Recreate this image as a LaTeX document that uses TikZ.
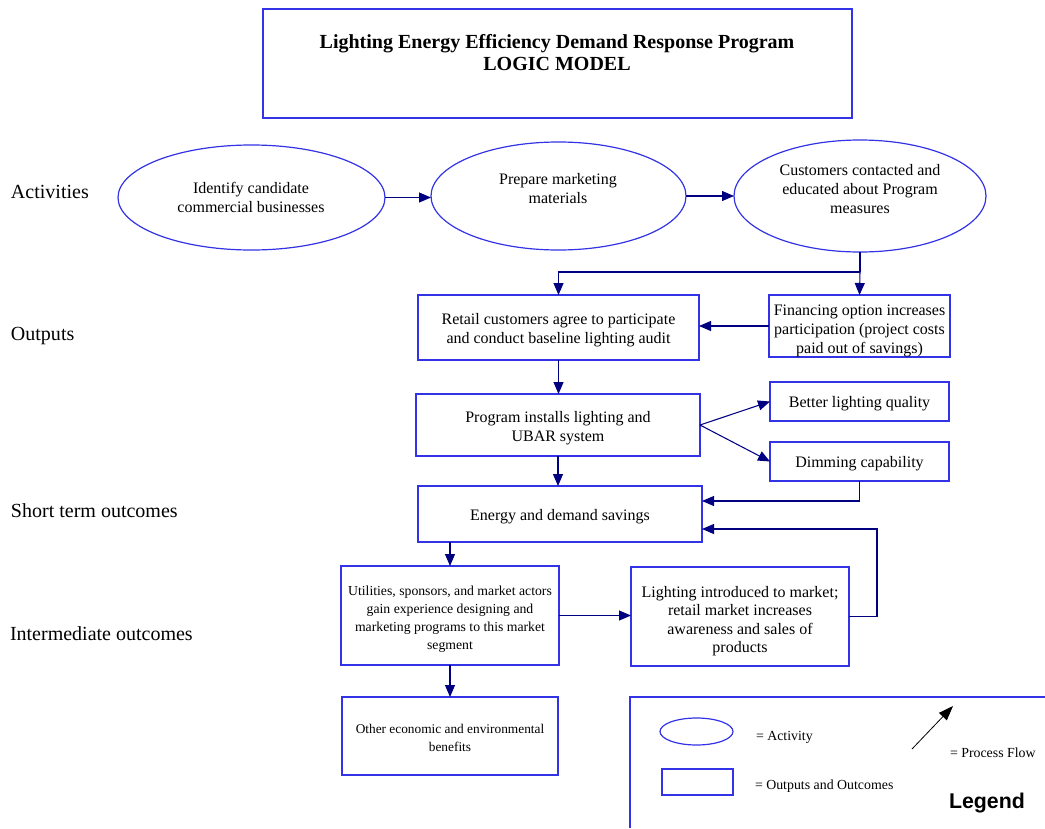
\documentclass[tikz,border=0pt]{standalone}
\usepackage{fontspec}
\setmainfont{Liberation Serif}
\newfontfamily\legendfont{Liberation Sans}
\usetikzlibrary{arrows.meta,shapes.geometric,calc}
\definecolor{boxblue}{RGB}{50,50,230}
\definecolor{flownavy}{RGB}{0,0,128}

\begin{document}
\begin{tikzpicture}[x=0.75pt,y=-0.75pt,
  every node/.style={inner sep=0pt, outer sep=0pt},
  wh/.style 2 args={minimum width=#1*0.75pt, minimum height=#2*0.75pt},
  box/.style={draw=boxblue, line width=0.9pt},
  activity/.style={draw=boxblue, line width=0.9pt, ellipse},
  bodytext/.style={align=center, font=\fontsize{12}{14.25}\selectfont},
  smalltext/.style={align=center, font=\fontsize{10.3}{13.5}\selectfont},
  lbl/.style={anchor=base west, font=\fontsize{15}{18}\selectfont},
  legtext/.style={anchor=west, font=\fontsize{10.4}{12.5}\selectfont},
  link/.style={draw=flownavy, line width=0.8pt},
  flow/.style={link, -{Triangle[length=9pt,width=7.5pt]}},
]
\useasboundingbox (0,0) rectangle (1045,828);

% title
\node[box, wh={589}{109}] (titlebox) at (557.5,63.5) {};
\node[align=center, font=\bfseries\fontsize{15}{16.5}\selectfont] (title) at (557,53)
  {Lighting Energy Efficiency Demand Response Program\\LOGIC MODEL};

% row labels
\node[lbl] (lact) at (11,198) {Activities};
\node[lbl] (lout) at (11,340) {Outputs};
\node[lbl] (lshort) at (11,517) {Short term outcomes};
\node[lbl] (linter) at (10,640) {Intermediate outcomes};

% activities
\node[activity, wh={267}{105}] (e1) at (251.5,197.5) {};
\node[activity, wh={255}{108}] (e2) at (558.5,196) {};
\node[activity, wh={252}{112}] (e3) at (860,196) {};
\node[bodytext] (t1) at (251,197.5) {Identify candidate\\commercial businesses};
\node[bodytext] (t2) at (558,188.5) {Prepare marketing\\materials};
\node[bodytext] (t3) at (860,189) {Customers contacted and\\educated about Program\\measures};

% outputs and outcomes: frames
\node[box, wh={281}{65}] (retail) at (558.5,327.5) {};
\node[box, wh={181}{62}] (fin) at (859.5,326) {};
\node[box, wh={284}{62}] (prog) at (558,425) {};
\node[box, wh={179}{39}] (better) at (859.5,401.5) {};
\node[box, wh={179}{39}] (dim) at (859.5,461.5) {};
\node[box, wh={284}{56}] (energy) at (560,514) {};
\node[box, wh={218}{99}] (util) at (450,615.5) {};
\node[box, wh={218}{99}] (light) at (740,616.5) {};
\node[box, wh={216}{78}] (other) at (450,736) {};

% outputs and outcomes: texts
\node[bodytext] (retail-t) at ($(retail)+(0,3)$)
  {Retail customers agree to participate\\and conduct baseline lighting audit};
\node[bodytext] (fin-t) at ($(fin)+(0,4.5)$)
  {Financing option increases\\participation (project costs\\paid out of savings)};
\node[bodytext] (prog-t) at ($(prog)+(0,3.5)$)
  {Program installs lighting and\\UBAR system};
\node[bodytext] (better-t) at ($(better)+(0,2)$) {Better lighting quality};
\node[bodytext] (dim-t) at ($(dim)+(0,2)$) {Dimming capability};
\node[bodytext] (energy-t) at ($(energy)+(0,3)$) {Energy and demand savings};
\node[smalltext] (util-t) at ($(util)+(0,4)$)
  {Utilities, sponsors, and market actors\\gain experience designing and\\marketing programs to this market\\segment};
\node[bodytext, font=\fontsize{12}{13.75}\selectfont] (light-t) at ($(light)+(0,4.5)$)
  {Lighting introduced to market;\\retail market increases\\awareness and sales of\\products};
\node[smalltext, font=\fontsize{10}{13.5}\selectfont] (other-t) at ($(other)+(0,2)$)
  {Other economic and environmental\\benefits};

% connectors
\coordinate (split) at (860,272);
\coordinate (ein1) at ($(energy.east)+(0,-13)$);
\coordinate (ein2) at ($(energy.east)+(0,15)$);
\coordinate (loop) at (877,616.5);

\draw[flow] (e1.east) -- (e2.west |- e1.east);
\draw[flow] (e2.east) -- (e3.west |- e2.east);
\draw[link] (e3.south) -- (split);
\draw[flow] (split) -| (retail.north);
\draw[flow] (split) -- (fin.north);
\draw[flow] (fin.west) -- (retail.east |- fin.west);
\draw[flow] (retail.south) -- (retail.south |- prog.north);
\draw[flow] (prog.east) -- (better.west);
\draw[flow] (prog.east) -- (dim.west);
\draw[flow] (prog.south) -- (prog.south |- energy.north);
\draw[flow] (dim.south) |- (ein1);
\draw[flow] (light.east) -- (loop) |- (ein2);
\draw[flow] (util.north |- energy.south) -- (util.north);
\draw[flow] (util.east) -- (light.west |- util.east);
\draw[flow] (util.south) -- (util.south |- other.north);

% legend
\draw[draw=boxblue, line width=0.9pt] (630,828) -- (630,697) -- (1045,697);
\node[activity, wh={73}{27}] (legact) at (696.5,731.5) {};
\node[legtext] (legacttxt) at (756,737.5) {= Activity};
\node[box, wh={71}{26}] (legbox) at (697.5,782) {};
\node[legtext] (legboxtxt) at (755,786.5) {= Outputs and Outcomes};
\coordinate (pfA) at (912,749);
\coordinate (pfB) at (953,706);
\draw[black, line width=0.6pt, -{Triangle[length=11pt,width=8pt]}] (pfA) -- (pfB);
\node[legtext] (pftxt) at (950,753) {= Process Flow};
\node[anchor=west, font=\legendfont\bfseries\fontsize{16}{18}\selectfont] (legend) at (949,803.5) {Legend};
\end{tikzpicture}
\end{document}
